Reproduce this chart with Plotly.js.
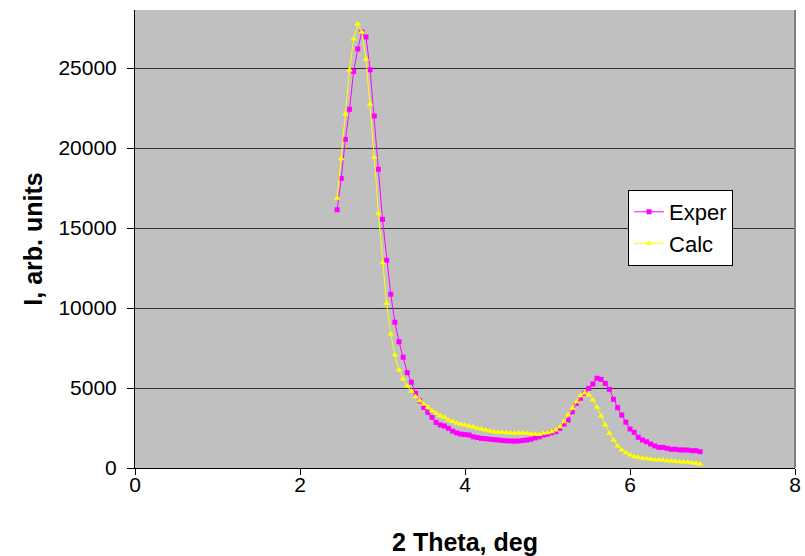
<!DOCTYPE html>
<html>
<head>
<meta charset="utf-8">
<script src="https://cdn.plot.ly/plotly-3.0.1.min.js"></script>
<style>html,body{margin:0;padding:0;background:#fff;}#chart{width:805px;height:556px;}</style>
</head>
<body>
<div id="chart"></div>
<script>
var theta = [2.45,2.50,2.55,2.60,2.65,2.70,2.75,2.80,2.85,2.90,2.95,3.00,3.05,3.10,3.15,3.20,3.25,3.30,3.35,3.40,
3.45,3.50,3.55,3.60,3.65,3.70,3.75,3.80,3.85,3.90,3.95,4.00,4.05,4.10,4.15,4.20,4.25,4.30,4.35,4.40,
4.45,4.50,4.55,4.60,4.65,4.70,4.75,4.80,4.85,4.90,4.95,5.00,5.05,5.10,5.15,5.20,5.25,5.30,5.35,5.40,
5.45,5.50,5.55,5.60,5.65,5.70,5.75,5.80,5.85,5.90,5.95,6.00,6.05,6.10,6.15,6.20,6.25,6.30,6.35,6.40,
6.45,6.50,6.55,6.60,6.65,6.70,6.75,6.80,6.85];

var exper = [16140,18100,20540,22420,24790,26190,27250,26940,24890,22000,18670,15540,12980,10860,9110,7890,6920,5960,5360,4670,
4200,3790,3480,3170,2850,2690,2625,2480,2300,2190,2120,2090,2060,1950,1900,1850,1830,1800,1770,1750,
1720,1700,1690,1680,1690,1720,1750,1800,1880,1950,2060,2120,2200,2270,2480,2750,3000,3520,4040,4360,
4670,4980,5250,5610,5540,5290,4920,4290,3770,3310,2860,2440,2230,1920,1750,1640,1500,1380,1290,1290,
1230,1170,1170,1130,1130,1120,1080,1080,1020];

var calc = [16860,19330,22130,24880,26810,27750,27230,25540,22730,19420,15920,12830,10290,8380,7060,6130,5560,5130,4790,4460,
4210,3980,3790,3580,3420,3270,3170,3000,2900,2800,2740,2690,2620,2580,2480,2440,2380,2310,2270,2240,
2230,2210,2190,2170,2180,2190,2170,2130,2110,2100,2170,2200,2270,2370,2580,2890,3310,3730,4140,4520,
4690,4560,4250,3800,3250,2690,2170,1750,1380,1130,960,810,710,670,610,580,540,520,500,500,
460,440,420,390,380,360,330,300,230];

var seriesNames = ["Exper","Calc"];

var traces = [
  {x: theta, y: exper, name: seriesNames[0], type: "scatter", mode: "lines+markers",
   line: {color: "#ff00ff", width: 1}, marker: {symbol: "square", size: 5, color: "#ff00ff"}},
  {x: theta, y: calc, name: seriesNames[1], type: "scatter", mode: "lines+markers",
   line: {color: "#ffff00", width: 1}, marker: {symbol: "triangle-up", size: 6, color: "#ffff00"}}
];

var layout = {
  width: 805, height: 556,
  margin: {l: 135, r: 10, t: 10, b: 88},
  paper_bgcolor: "#ffffff",
  plot_bgcolor: "#c0c0c0",
  font: {family: "Liberation Sans, Arial, sans-serif", size: 17, color: "#000"},
  showlegend: true,
  legend: {x: 0.747, y: 0.607, xanchor: "left", yanchor: "top",
    bgcolor: "#ffffff", bordercolor: "#000", borderwidth: 1,
    font: {size: 22, family: "Liberation Sans, Arial, sans-serif"}, tracegroupgap: 0},
  xaxis: {range: [0, 8], dtick: 2, tick0: 0, showgrid: false, zeroline: false,
    showline: true, linecolor: "#000", linewidth: 1,
    ticks: "outside", ticklen: 6, tickcolor: "#000", ticklabelstandoff: -8,
    tickfont: {size: 21},
    title: {text: "<b>2 Theta, deg</b>", font: {size: 25}, standoff: 40}},
  yaxis: {range: [0, 28625], dtick: 5000, tick0: 0, tickformat: "d", showgrid: true, gridcolor: "#303030", gridwidth: 1,
    zeroline: false, showline: true, linecolor: "#000", linewidth: 1,
    ticks: "outside", ticklen: 7, tickcolor: "#000", ticklabelstandoff: 6,
    tickfont: {size: 21},
    title: {text: "<b>I, arb. units</b>", font: {size: 25}, standoff: 8}},
  shapes: [{type: "line", xref: "paper", yref: "paper", x0: 1, x1: 1, y0: 0, y1: 1,
    line: {color: "#808080", width: 2}}]
};

Plotly.newPlot("chart", traces, layout, {displayModeBar: false, staticPlot: true});
</script>
</body>
</html>
